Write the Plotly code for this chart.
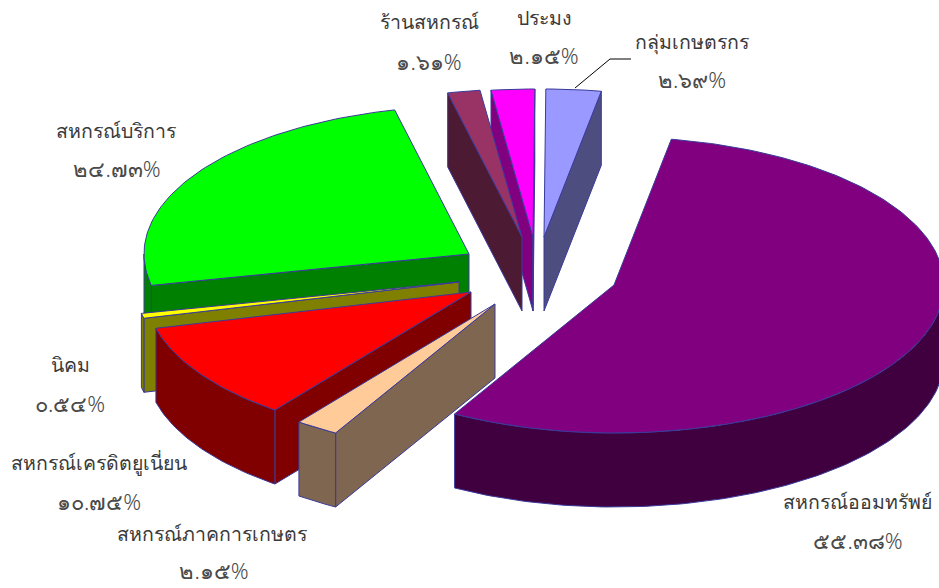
import math
import plotly.graph_objects as go

names = ["สหกรณ์ออมทรัพย์", "สหกรณ์ภาคการเกษตร", "สหกรณ์เครดิตยูเนี่ยน", "นิคม",
         "สหกรณ์บริการ", "ร้านสหกรณ์", "ประมง", "กลุ่มเกษตรกร"]
values = [55.38, 2.15, 10.75, 0.54, 24.73, 1.61, 2.15, 2.69]
value_labels = ["๕๕.๓๘%", "๒.๑๕%", "๑๐.๗๕%", "๐.๕๔%", "๒๔.๗๓%", "๑.๖๑%", "๒.๑๕%", "๒.๖๙%"]

top_colors = ["#800080", "#FFCC99", "#FF0000", "#FFFF00", "#00FF00", "#993366", "#FF00FF", "#9999FF"]
side_colors = ["#400040", "#7F6650", "#800000", "#808000", "#008000", "#4D1A33", "#800080", "#4D4D80"]
apexes = [(614, 285), (495, 304), (471, 292), (459, 282), (469, 254), (522, 237), (533, 237), (544, 237)]
name_pos = [(857, 504), (212, 536), (99, 465), (70, 367), (116, 133), (429, 24), (544, 20), (692, 44)]
value_pos = [(858, 543), (214, 573), (99, 504), (70, 406), (117, 171), (429, 64), (544, 58), (692, 82)]

RX_RIGHT, RX_LEFT, RY, DEPTH = 330, 325, 148, 74
START = 10.0
LINE = "#3A3A9A"
NAME_COLOR = "#3A3A3A"
VALUE_COLOR = "#4A4A4A"
FONT = "Noto Sans, sans-serif"
NAME_SIZE, VALUE_SIZE = 19.5, 22
draw_order = [4, 3, 2, 1, 6, 5, 7, 0]

# slice angular extents follow from the values
spans, a = [], START
for v in values:
    spans.append((a, a + v * 3.6))
    a += v * 3.6


def pt(apex, deg, dz=0):
    t = math.radians(deg)
    s = math.sin(t)
    return apex[0] + (RX_RIGHT if s >= 0 else RX_LEFT) * s, apex[1] - RY * math.cos(t) + dz


def poly(fig, pts, color):
    xs = [p[0] for p in pts] + [pts[0][0]]
    ys = [p[1] for p in pts] + [pts[0][1]]
    fig.add_trace(go.Scatter(x=xs, y=ys, mode="lines", fill="toself", fillcolor=color,
                             line=dict(color=LINE, width=1), hoverinfo="skip", showlegend=False))


def arc(apex, a0, a1, dz=0, step=1.0):
    n = max(2, int(abs(a1 - a0) / step) + 1)
    return [pt(apex, a0 + (a1 - a0) * i / (n - 1), dz) for i in range(n)]


fig = go.Figure()
for i in draw_order:
    ap = apexes[i]
    a0, a1 = spans[i]
    side, top = side_colors[i], top_colors[i]
    # radial cut faces that look toward the viewer
    if math.sin(math.radians(a0)) < 0:
        poly(fig, [ap, pt(ap, a0), pt(ap, a0, DEPTH), (ap[0], ap[1] + DEPTH)], side)
    if math.sin(math.radians(a1)) > 0:
        poly(fig, [ap, pt(ap, a1), pt(ap, a1, DEPTH), (ap[0], ap[1] + DEPTH)], side)
    # outer rim, front half only
    r0, r1 = max(a0, 90), min(a1, 270)
    if r1 > r0:
        poly(fig, arc(ap, r0, r1) + arc(ap, r1, r0, DEPTH), side)
    poly(fig, [ap] + arc(ap, a0, a1), top)

# leader line for the small slice label
fig.add_trace(go.Scatter(x=[575, 610, 631], y=[88, 59, 59], mode="lines",
                         line=dict(color="#000000", width=1), hoverinfo="skip", showlegend=False))

for labs, positions, size, color in ((names, name_pos, NAME_SIZE, NAME_COLOR),
                                     (value_labels, value_pos, VALUE_SIZE, VALUE_COLOR)):
    for lab, (x, y) in zip(labs, positions):
        fig.add_trace(go.Scatter(x=[x], y=[y], mode="text", text=[lab], textposition="middle center",
                                 textfont=dict(family=FONT, size=size, color=color, weight=300),
                                 hoverinfo="skip", showlegend=False))

fig.update_layout(width=939, height=588, margin=dict(l=0, r=0, t=0, b=0),
                  paper_bgcolor="white", plot_bgcolor="white",
                  xaxis=dict(range=[0, 939], visible=False, fixedrange=True),
                  yaxis=dict(range=[588, 0], visible=False, fixedrange=True))
fig.write_html("out.html", config={"displayModeBar": False},
               post_script="document.body.style.margin='0';document.documentElement.style.overflow='hidden';")
